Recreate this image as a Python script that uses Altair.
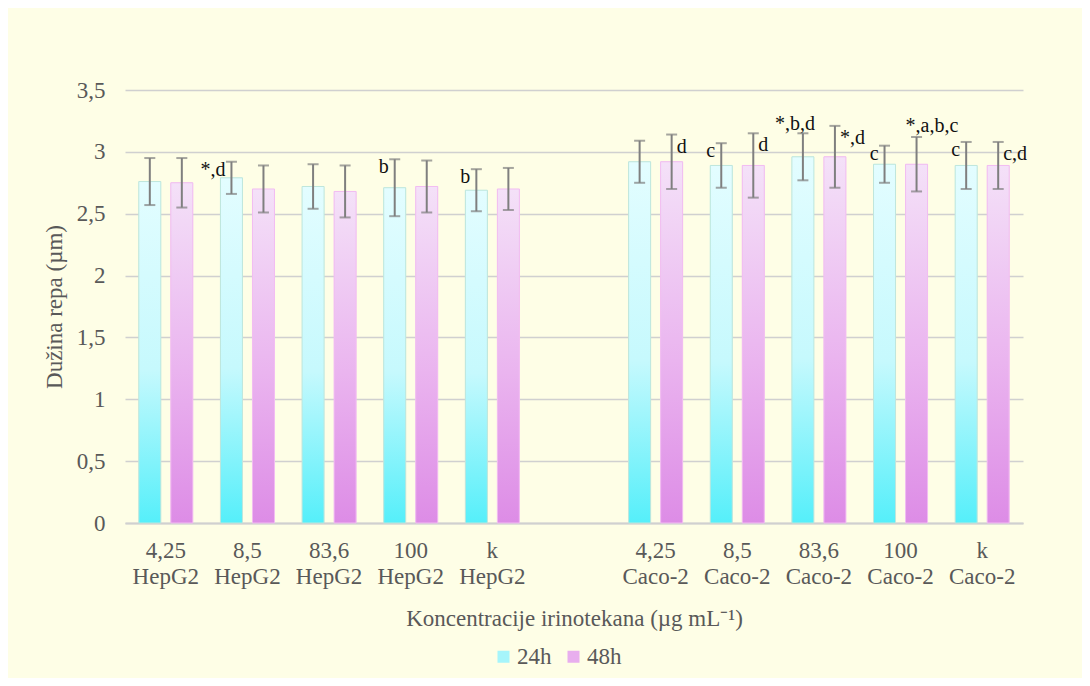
import altair as alt
import pandas as pd

# ---- data ----
categories = ["4,25|HepG2", "8,5|HepG2", "83,6|HepG2", "100|HepG2", "k|HepG2", " ",
              "4,25|Caco-2", "8,5|Caco-2", "83,6|Caco-2", "100|Caco-2", "k|Caco-2"]
series = ["24h", "48h"]
mean_24h = [2.76, 2.79, 2.72, 2.71, 2.69, None, 2.92, 2.89, 2.96, 2.90, 2.89]
sd_24h = [0.19, 0.13, 0.18, 0.23, 0.17, None, 0.17, 0.18, 0.19, 0.15, 0.19]
mean_48h = [2.75, 2.70, 2.68, 2.72, 2.70, None, 2.92, 2.89, 2.96, 2.90, 2.89]
sd_48h = [0.20, 0.19, 0.21, 0.21, 0.17, None, 0.22, 0.26, 0.25, 0.22, 0.19]

ann_category = ["8,5|HepG2", "100|HepG2", "k|HepG2", "4,25|Caco-2", "8,5|Caco-2", "8,5|Caco-2",
                "83,6|Caco-2", "83,6|Caco-2", "100|Caco-2", "100|Caco-2", "k|Caco-2", "k|Caco-2"]
ann_series = ["24h", "24h", "24h", "48h", "24h", "48h", "24h", "48h", "24h", "48h", "24h", "48h"]
ann_text = ["*,d", "b", "b", "d", "c", "d", "*,b,d", "*,d", "c", "*,a,b,c", "c", "c,d"]
ann_side = ["left", "left", "left", "right", "left", "right", "topleft", "right", "left", "topright", "left", "right"]

rows = []
for i, c in enumerate(categories):
    if mean_24h[i] is None:
        continue
    for s, m, sd in (("24h", mean_24h[i], sd_24h[i]), ("48h", mean_48h[i], sd_48h[i])):
        rows.append(dict(cat=c, series=s, mean=m, lo=m - sd, hi=m + sd))
df = pd.DataFrame(rows)
ann = pd.DataFrame(dict(cat=ann_category, series=ann_series, text=ann_text, side=ann_side)).merge(
    df[["cat", "series", "hi"]], on=["cat", "series"])

FONT = "Liberation Serif"
GREY = "#595959"
FS = 23

x_axis = alt.Axis(title="Koncentracije irinotekana (µg mL⁻¹)", labelAngle=0,
                  labelExpr="split(datum.label, '|')", labelFont=FONT, titleFont=FONT,
                  labelFontSize=FS, labelLineHeight=26,
                  labelPadding=16, titleFontSize=FS, titlePadding=19, labelColor=GREY,
                  titleColor=GREY, titleFontWeight="normal", ticks=False, domainColor="#D0D0D0",
                  domainWidth=2, grid=False)
y_axis = alt.Axis(title="Dužina repa (µm)", values=[0, 0.5, 1, 1.5, 2, 2.5, 3, 3.5],
                  labelExpr="replace(toString(datum.value), '.', ',')", labelFont=FONT,
                  titleFont=FONT, labelFontSize=FS,
                  labelPadding=20, titleFontSize=FS, titlePadding=10, labelColor=GREY,
                  titleColor=GREY, titleFontWeight="normal", ticks=False, domain=False,
                  gridColor="#D0D0D0", gridWidth=1.5)

x = alt.X("cat:N", scale=alt.Scale(domain=categories, paddingInner=0, paddingOuter=0), axis=x_axis)
xo = alt.XOffset("series:N", scale=alt.Scale(domain=series, paddingInner=0.3125, paddingOuter=0.431))
yscale = alt.Scale(domain=[0, 3.5])

base = alt.Chart(df)

shadow = base.mark_bar(color="#E0DDBB", opacity=0.9, xOffset=3).encode(
    x=x, xOffset=xo, y=alt.Y("mean:Q", scale=yscale, axis=y_axis))

legend_bars = base.mark_bar().encode(
    x=x, xOffset=xo, y=alt.Y("mean:Q", scale=yscale, axis=y_axis),
    color=alt.Color("series:N", scale=alt.Scale(domain=series, range=["#A6F5FB", "#E8AEEE"]),
                    legend=alt.Legend(title=None, orient="none", legendX=367, legendY=555,
                                      direction="horizontal", symbolType="square", symbolSize=144,
                                      labelFont=FONT, labelFontSize=FS, labelColor=GREY,
                                      symbolStrokeWidth=0, labelOffset=2, columnPadding=10,
                                      padding=0)))

grad24 = alt.LinearGradient(gradient="linear", x1=0, x2=0, y1=0, y2=1, stops=[
    alt.GradientStop(color="#E3FDFF", offset=0), alt.GradientStop(color="#C6F9FD", offset=0.55),
    alt.GradientStop(color="#55EFFA", offset=1)])
grad48 = alt.LinearGradient(gradient="linear", x1=0, x2=0, y1=0, y2=1, stops=[
    alt.GradientStop(color="#F4E1F8", offset=0), alt.GradientStop(color="#EAB4EF", offset=0.55),
    alt.GradientStop(color="#DD8CE6", offset=1)])

bars24 = base.transform_filter(alt.datum.series == "24h").mark_bar(
    color=grad24, stroke="#BFE6DC", strokeWidth=1).encode(
    x=x, xOffset=xo, y=alt.Y("mean:Q", scale=yscale, axis=y_axis))
bars48 = base.transform_filter(alt.datum.series == "48h").mark_bar(
    color=grad48, stroke="#F2BDF2", strokeWidth=1).encode(
    x=x, xOffset=xo, y=alt.Y("mean:Q", scale=yscale, axis=y_axis))

err = base.mark_rule(color="#7F7F7F", strokeWidth=2).encode(
    x=x, xOffset=xo, y=alt.Y("lo:Q", scale=yscale, axis=y_axis), y2="hi:Q")
cap_hi = base.mark_tick(color="#7F7F7F", size=11, thickness=2, orient="horizontal").encode(
    x=x, xOffset=xo, y=alt.Y("hi:Q", scale=yscale, axis=y_axis))
cap_lo = base.mark_tick(color="#7F7F7F", size=11, thickness=2, orient="horizontal").encode(
    x=x, xOffset=xo, y=alt.Y("lo:Q", scale=yscale, axis=y_axis))

side_styles = {
    "left": dict(align="right", baseline="middle", dx=-6, dy=8),
    "right": dict(align="left", baseline="middle", dx=5, dy=12),
    "topleft": dict(align="right", baseline="alphabetic", dx=12, dy=-3),
    "topright": dict(align="left", baseline="alphabetic", dx=-11, dy=-5),
}
texts = []
for side, st in side_styles.items():
    texts.append(alt.Chart(ann).transform_filter(alt.datum.side == side).mark_text(
        font=FONT, fontSize=20, color="#111111", **st).encode(
        x=x, xOffset=xo, y=alt.Y("hi:Q", scale=yscale, axis=y_axis), text="text:N"))

chart = alt.layer(shadow, legend_bars, bars24, bars48, err, cap_hi, cap_lo, *texts).properties(
    width=898, height=433,
    padding={"left": 117, "top": 82, "right": 59, "bottom": 155},
    autosize=alt.AutoSizeParams(type="none"),
    background="#FEFEE6",
).configure(font=FONT).configure_view(stroke=None)

chart.save("out.html", embed_options={"renderer": "svg", "actions": False})
